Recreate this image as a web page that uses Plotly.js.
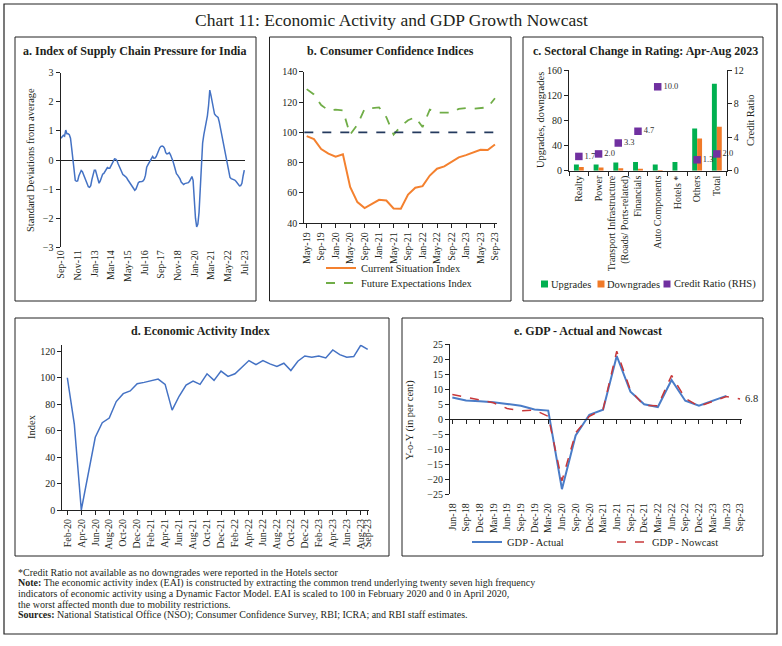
<!DOCTYPE html>
<html><head><meta charset="utf-8">
<script src="https://cdn.plot.ly/plotly-3.0.1.min.js"></script>
<style>body{margin:0;background:#fff}#chart{width:782px;height:646px}</style>
</head><body><div id="chart"></div><script>
const MON=['Jan','Feb','Mar','Apr','May','Jun','Jul','Aug','Sep','Oct','Nov','Dec'];
function monthLabels(y,m,n,step){const o=[];for(let i=0;i<n;i++){const t=(m-1)+i*step;o.push(MON[t%12]+'-'+String((y+Math.floor(t/12))%100).padStart(2,'0'));}return o;}

// a. Index of Supply Chain Pressure (monthly, Sep-2010 onwards)
const scpValues=[0.75,0.82,0.85,0.82,1.03,0.9,0.9,0.87,0.75,0.4,
-0.05,-0.45,-0.7,-0.73,-0.72,-0.55,-0.42,-0.36,-0.4,-0.5,
-0.6,-0.7,-0.83,-0.92,-0.94,-0.88,-0.67,-0.5,-0.35,-0.35,
-0.5,-0.68,-0.8,-0.72,-0.6,-0.49,-0.46,-0.39,-0.3,-0.26,
-0.28,-0.28,-0.2,-0.1,-0.02,0.04,0.03,-0.02,-0.13,-0.22,
-0.3,-0.42,-0.5,-0.53,-0.56,-0.6,-0.67,-0.73,-0.8,-0.88,
-0.95,-1.01,-1.04,-1.0,-0.86,-0.78,-0.75,-0.75,-0.74,-0.72,
-0.66,-0.52,-0.25,-0.17,-0.1,-0.03,0.05,0.12,0.06,0.07,
0.12,0.23,0.33,0.42,0.47,0.48,0.46,0.4,0.25,0.21,
0.22,0.25,0.18,0.09,-0.03,-0.17,-0.34,-0.47,-0.52,-0.58,
-0.65,-0.76,-0.82,-0.84,-0.81,-0.8,-0.8,-0.78,-0.73,-0.63,
-0.57,-0.7,-1.4,-2.0,-2.3,-2.2,-1.8,-0.8,0.05,0.58,
0.86,1.08,1.27,1.52,1.88,2.4,2.22,1.98,1.69,1.58,
1.53,1.49,1.46,1.3,1.08,0.8,0.65,0.47,0.25,0.04,
-0.18,-0.4,-0.6,-0.64,-0.65,-0.66,-0.69,-0.73,-0.78,-0.85,
-0.89,-0.88,-0.8,-0.55,-0.35];
const scpMonths=monthLabels(2010,9,scpValues.length,1);
const scpTicks=monthLabels(2010,9,12,14);

// b. Consumer Confidence (bi-monthly rounds, May-19 to Sep-23)
const ccsRounds=monthLabels(2019,5,27,2);
const ccsCurrent=[97.5,95.5,89,86,84,85.5,64,54,50,52.5,55.5,55,49.8,49.6,59,63.5,64.5,71.5,76,77.5,80.5,83.5,85,87,88.5,88.3,92];
const ccsFuture=[128.5,125,118,114.5,115,114.5,98.5,105,115.5,116,116.5,110,98.5,104,108,110,103.5,115,113,113,113,115.5,116,115.5,116,116.5,122.5];
const ccsTicks=monthLabels(2019,5,14,4);
const ccsNeutral=100;

// c. Sectoral change in rating
const ratingSectors=['Realty','Power','Transport Infrastructure<br>(Roads/ Ports-related)','Financials','Auto Components','Hotels *','Others','Total'];
const upgrades=[10,10,13,14,10,14,67,138];
const downgrades=[6,5,4,3,1,0,51,70];
const creditRatio=[1.7,2.0,3.3,4.7,10.0,null,1.3,2.0];

// d. Economic Activity Index (monthly, Feb-20 to Sep-23)
const eaiMonths=monthLabels(2020,2,44,1);
const eaiValues=[100,65,0,28,55,66,69.5,82,88,90,95.5,96.5,97.5,99,95,75.5,86,94.5,97.5,95,103,98,105,101,103,108,113,110,113,110.5,108.5,111,105.5,112.5,116.5,115.5,116.5,115,121,117.5,115.5,116,124.5,121.5];
const eaiTicks=monthLabels(2020,2,22,2).concat(['Sep-23']);

// e. GDP actual and nowcast (quarterly, Jun-18 to Sep-23)
const gdpQuarters=monthLabels(2018,6,22,3);
const gdpActual=[7.3,6.3,6.0,5.7,5.1,4.5,3.3,2.9,-23.3,-5.4,1.5,3.2,21.1,9.2,5.0,4.1,13.1,6.2,4.5,6.1,7.8,null];
const gdpNowcast=[8.3,7.4,6.6,5.5,3.6,2.8,3.1,1.0,-20.5,-4.5,1.0,3.3,22.7,9.7,4.6,4.5,14.6,7.0,4.3,6.0,7.6,6.8];

const W=782,H=646;
const px=v=>v/W, py=v=>1-v/H;
const SERIF='Liberation Serif, Times New Roman, serif';
const TXT='#231f20';
const tickFont={family:SERIF,size:10,color:TXT};
const axBase={showgrid:false,zeroline:false,tickfont:tickFont,linecolor:'#222',linewidth:1,tickcolor:'#222',ticklen:4,fixedrange:true};

const traces=[
 {x:scpMonths,y:scpValues,xaxis:'x7',yaxis:'y7',mode:'lines',line:{color:'#4472c4',width:1.5},showlegend:false,name:'ISCP'},
 {x:ccsRounds,y:ccsCurrent,xaxis:'x2',yaxis:'y2',mode:'lines',line:{color:'#f4812f',width:2},name:'Current Situation Index',legend:'legend'},
 {x:ccsRounds,y:ccsFuture,xaxis:'x2',yaxis:'y2',mode:'lines',line:{color:'#70ad47',width:1.8,dash:'dash'},name:'Future Expectations Index',legend:'legend2'},
 {x:ratingSectors,y:upgrades,xaxis:'x3',yaxis:'y3',type:'bar',marker:{color:'#00b050'},name:'Upgrades',showlegend:false},
 {x:ratingSectors,y:downgrades,xaxis:'x3',yaxis:'y3',type:'bar',marker:{color:'#f07a28'},name:'Downgrades',showlegend:false},
 {x:ratingSectors,y:creditRatio,xaxis:'x3',yaxis:'y4',type:'scatter',mode:'markers+text',marker:{symbol:'square',size:7.5,color:'#7030a0'},
  text:creditRatio.map(v=>v==null?'':v.toFixed(1)),textposition:'middle right',textfont:{family:SERIF,size:8.5,color:'#333'},name:'Credit Ratio (RHS)',showlegend:false,cliponaxis:false},
 {x:eaiMonths,y:eaiValues,xaxis:'x5',yaxis:'y5',mode:'lines',line:{color:'#4472c4',width:1.5},showlegend:false,name:'EAI'},
 {x:gdpQuarters,y:gdpActual,xaxis:'x6',yaxis:'y6',mode:'lines',line:{color:'#4a7cc7',width:2},name:'GDP - Actual',legend:'legend3'},
 {x:gdpQuarters,y:gdpNowcast,xaxis:'x6',yaxis:'y6',mode:'lines',line:{color:'#c8383a',width:1.5,dash:'dash'},name:'GDP - Nowcast',legend:'legend4'}
];

const legFont={family:SERIF,size:10.5,color:TXT};
const leg=(x,y)=>({x:px(x),y:py(y),xanchor:'left',yanchor:'middle',orientation:'h',font:legFont,bgcolor:'rgba(0,0,0,0)',borderwidth:0});

const ann=[];
function t(text,x,y,o){ann.push(Object.assign({text:text,x:px(x),y:py(y),xref:'paper',yref:'paper',xanchor:'center',yanchor:'middle',showarrow:false,font:{family:SERIF,size:10.5,color:TXT}},o||{}));}
t('Chart 11: Economic Activity and GDP Growth Nowcast',391,20,{font:{family:SERIF,size:17.5,color:TXT}});
const pt={family:SERIF,size:12,color:TXT};
t('<b>a. Index of Supply Chain Pressure for India</b>',134,51,{font:pt});
t('<b>b. Consumer Confidence Indices</b>',390,51,{font:pt});
t('<b>c. Sectoral Change in Rating: Apr-Aug 2023</b>',645,51,{font:pt});
t('<b>d. Economic Activity Index</b>',200,331,{font:pt});
t('<b>e. GDP - Actual and Nowcast</b>',588,331,{font:pt});
t('Standard Deviations from average',31,160,{textangle:-90});
t('Upgrades, downgrades',540,120,{textangle:-90});
t('Credit Ratio',750,120,{textangle:-90});
t('Index',31,427,{textangle:-90});
t('Y-o-Y (in per cent)',410,420,{textangle:-90});
// panel c legend labels
t('Upgrades',549,284,{xanchor:'left'});
t('Downgrades',605,284,{xanchor:'left'});
t('Credit Ratio (RHS)',672,284,{xanchor:'left'});
// value label
ann.push({text:'6.8',x:gdpQuarters[gdpQuarters.length-1],y:gdpNowcast[gdpNowcast.length-1],xref:'x6',yref:'y6',xanchor:'left',yanchor:'middle',xshift:3,showarrow:false,font:{family:SERIF,size:10.5,color:TXT}});
const fn={family:SERIF,size:10,color:TXT};
t('*Credit Ratio not available as no downgrades were reported in the Hotels sector',16,572.5,{xanchor:'left',font:fn});
t('<b>Note:</b> The economic activity index (EAI) is constructed by extracting the common trend underlying twenty seven high frequency',16,583,{xanchor:'left',font:fn});
t('indicators of economic activity using a Dynamic Factor Model. EAI is scaled to 100 in February 2020 and 0 in April 2020,',16,593.5,{xanchor:'left',font:fn});
t('the worst affected month due to mobility restrictions.',16,604,{xanchor:'left',font:fn});
t('<b>Sources:</b> National Statistical Office (NSO); Consumer Confidence Survey, RBI; ICRA; and RBI staff estimates.',16,614.5,{xanchor:'left',font:fn});

const shapes=[];
function box(x0,y0,x1,y1,w){shapes.push({type:'rect',xref:'paper',yref:'paper',x0:px(x0),x1:px(x1),y0:py(y0),y1:py(y1),line:{color:'#222',width:w||1},fillcolor:'rgba(0,0,0,0)'});}
box(4,4,777,634,1.2);
box(15,37,256,301);box(269.5,37,511,301);box(523,37,763,301);
box(15,318,389,556);box(402,318,763,556);
shapes.push({type:'line',xref:'x2 domain',x0:0,x1:1,yref:'y2',y0:ccsNeutral,y1:ccsNeutral,line:{color:'#243a5e',width:1.8,dash:'dash'}});
function sq(cx,cy,c){shapes.push({type:'rect',xref:'paper',yref:'paper',x0:px(cx-3.5),x1:px(cx+3.5),y0:py(cy+3.5),y1:py(cy-3.5),fillcolor:c,line:{width:0}});}
sq(544.5,284,'#00b050');sq(601,284,'#f07a28');sq(667,284,'#7030a0');

const aTop=72.7,aBot=247.3,eTop=344.3,eBot=494.3;
const layout={
 width:W,height:H,margin:{l:0,r:0,t:0,b:0},paper_bgcolor:'#fff',plot_bgcolor:'rgba(0,0,0,0)',
 barmode:'group',bargap:0.5,bargroupgap:0,
 font:{family:SERIF,color:TXT},
 xaxis7:Object.assign({},axBase,{domain:[px(60.5),px(245)],anchor:'y7',type:'category',range:[-0.4,154.6],tickmode:'array',tickvals:scpTicks,tickangle:-90,showline:false,ticks:''}),
 yaxis7:Object.assign({},axBase,{domain:[py(aBot),py(aTop)],anchor:'x7',range:[-3,3],dtick:1,showline:true,ticks:'outside',zeroline:true,zerolinecolor:'#222',zerolinewidth:1}),
 xaxis2:Object.assign({},axBase,{domain:[px(304.3),px(496.7)],anchor:'y2',type:'category',range:[-0.33,26.24],tickmode:'array',tickvals:ccsTicks,tickangle:-90,showline:true,ticks:'outside'}),
 yaxis2:Object.assign({},axBase,{domain:[py(223.3),py(71.7)],anchor:'x2',range:[40,140],dtick:20,showline:true,ticks:'outside'}),
 xaxis3:Object.assign({},axBase,{domain:[px(569),px(726.7)],anchor:'y3',type:'category',range:[-0.5,7.5],tickangle:-90,showline:true,ticks:'outside',tickson:'boundaries'}),
 yaxis3:Object.assign({},axBase,{domain:[py(170.7),py(70)],anchor:'x3',range:[0,160],dtick:40,showline:true,ticks:'outside'}),
 yaxis4:Object.assign({},axBase,{overlaying:'y3',side:'right',anchor:'x3',range:[0,12],dtick:4,showline:true,ticks:'outside'}),
 xaxis5:Object.assign({},axBase,{domain:[px(62.3),px(369.3)],anchor:'y5',type:'category',range:[-0.72,43.23],tickmode:'array',tickvals:eaiTicks,tickangle:-90,showline:true,ticks:'outside'}),
 yaxis5:Object.assign({},axBase,{domain:[py(510),py(344.7)],anchor:'x5',range:[0,125],dtick:20,showline:true,ticks:'outside'}),
 xaxis6:Object.assign({},axBase,{domain:[px(450),px(741.7)],anchor:'free',position:py((eTop+eBot)/2),type:'category',range:[-0.17,21.12],tickangle:-90,showline:true,ticks:'outside',ticklabelstandoff:(eBot-eTop)/2}),
 yaxis6:Object.assign({},axBase,{domain:[py(eBot),py(eTop)],anchor:'x6',range:[-25,25],dtick:5,showline:true,ticks:'outside'}),
 legend:leg(321,268),legend2:leg(321,283),legend3:leg(467,542),legend4:leg(612,542),
 annotations:ann,shapes:shapes
};
Plotly.newPlot('chart',traces,layout,{staticPlot:true,displayModeBar:false});
</script></body></html>
